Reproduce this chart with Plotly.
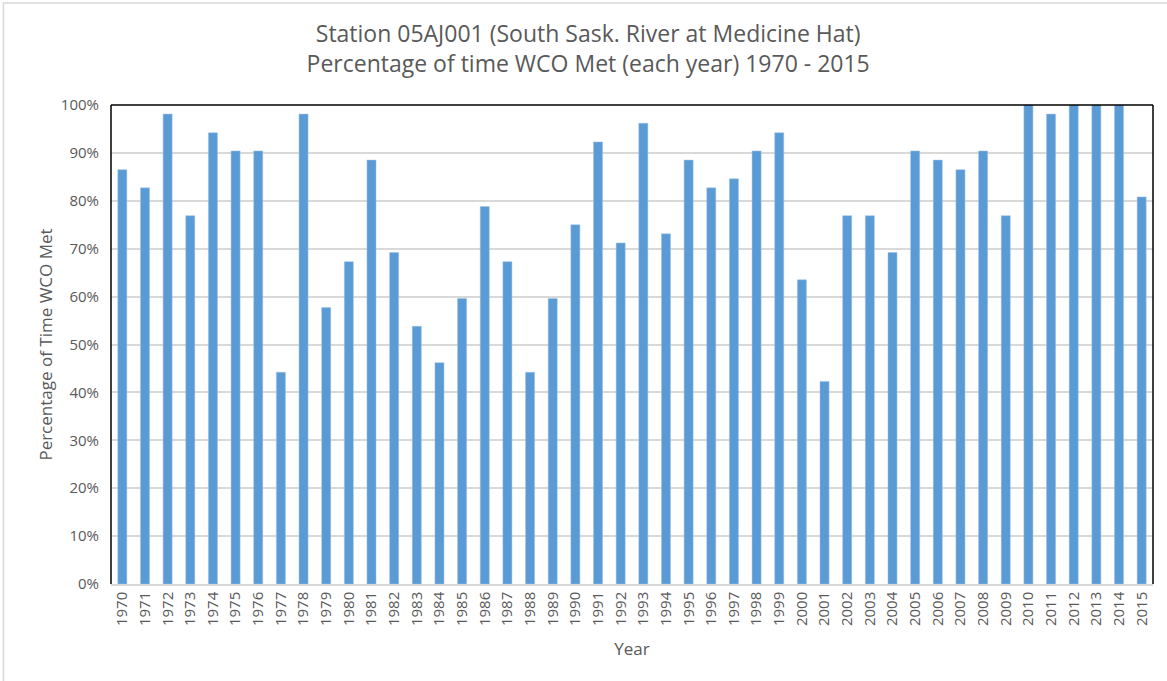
import plotly.graph_objects as go

years = [str(y) for y in range(1970, 2016)]
pct_met = [
    86.5, 82.7, 98.1, 76.9, 94.2, 90.4, 90.4, 44.2, 98.1, 57.7,
    67.3, 88.5, 69.2, 53.8, 46.2, 59.6, 78.8, 67.3, 44.2, 59.6,
    75.0, 92.3, 71.2, 96.2, 73.1, 88.5, 82.7, 84.6, 90.4, 94.2,
    63.5, 42.3, 76.9, 76.9, 69.2, 90.4, 88.5, 86.5, 90.4, 76.9,
    100.0, 98.1, 100.0, 100.0, 100.0, 80.8,
]
y_ticks = [0, 10, 20, 30, 40, 50, 60, 70, 80, 90, 100]
y_tick_labels = [f"{v}%" for v in y_ticks]

FONT = "Open Sans"
GREY = "#595959"

fig = go.Figure()
fig.add_trace(go.Bar(
    x=years, y=pct_met,
    marker=dict(color="#5b9bd5", line=dict(color="#9dc3e6", width=0.5)),
    hoverinfo="x+y",
))

fig.update_layout(
    width=1167, height=681,
    margin=dict(l=111, r=14, t=105, b=97),
    paper_bgcolor="white", plot_bgcolor="white",
    showlegend=False,
    bargap=0.6,
    title=dict(
        text="Station 05AJ001 (South Sask. River at Medicine Hat)<br>Percentage of time WCO Met (each year) 1970 - 2015",
        x=0.504, xanchor="center", y=0.938, yanchor="top",
        font=dict(family=FONT, size=23, color=GREY),
    ),
    font=dict(family=FONT, color=GREY),
    xaxis=dict(
        type="category",
        tickangle=-90,
        tickfont=dict(size=15, color=GREY),
        showgrid=False,
        showline=True, linecolor="#d9d9d9", linewidth=1.5,
        ticks="",
        title=dict(text="Year", font=dict(size=17, color=GREY), standoff=18),
    ),
    yaxis=dict(
        range=[0, 100],
        tickvals=y_ticks, ticktext=y_tick_labels,
        tickfont=dict(size=15, color=GREY),
        ticklabelstandoff=11,
        showgrid=True, gridcolor="#d9d9d9", gridwidth=1.5,
        zeroline=False,
        showline=False,
        ticks="",
        title=dict(text="Percentage of Time WCO Met", font=dict(size=17, color=GREY), standoff=3),
    ),
)

# Black plot-area border (top, left, right)
for x0, y0, x1, y1 in [(0, 1, 1, 1), (0, 0, 0, 1), (1, 0, 1, 1)]:
    fig.add_shape(type="line", xref="x domain", yref="y domain",
                  x0=x0, y0=y0, x1=x1, y1=y1,
                  line=dict(color="black", width=1.5))

# Light grey chart outline (extends past the right/bottom of the view)
fig.add_shape(type="rect", xref="paper", yref="paper",
              x0=-0.1032, y0=-0.221, x1=1.016, y1=1.213,
              line=dict(color="#d9d9d9", width=1.5), fillcolor="rgba(0,0,0,0)")

fig.write_html("out.html", config={"displayModeBar": False},
               post_script="document.body.style.margin='0';")
